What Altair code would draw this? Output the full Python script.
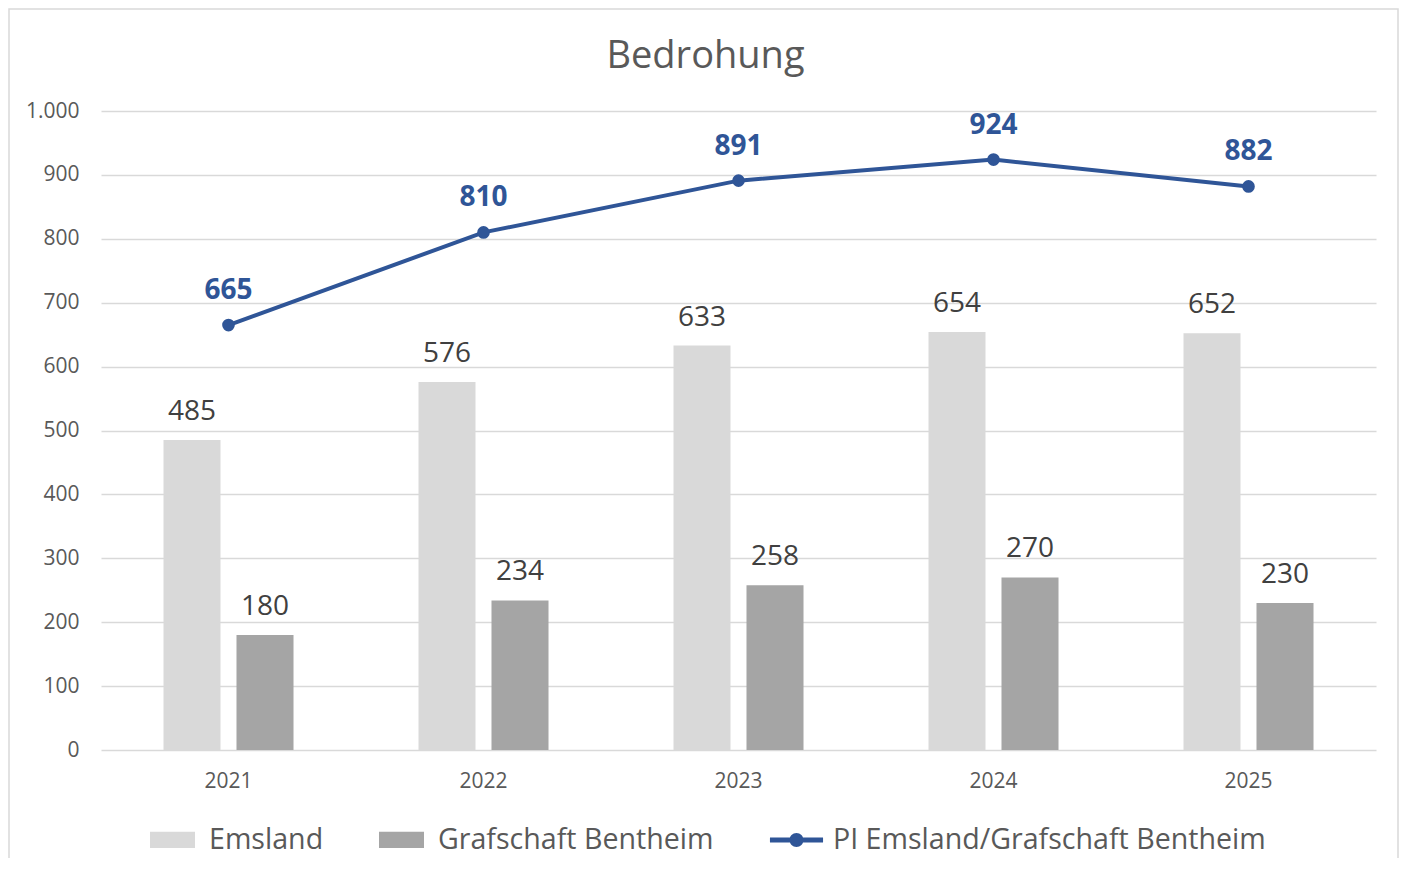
import altair as alt
import pandas as pd

years = ["2021", "2022", "2023", "2024", "2025"]
emsland = [485, 576, 633, 654, 652]
grafschaft = [180, 234, 258, 270, 230]
pi_total = [665, 810, 891, 924, 882]
series_names = ["Emsland", "Grafschaft Bentheim", "PI Emsland/Grafschaft Bentheim"]
series_colors = ["#D9D9D9", "#A5A5A5", "#2F5597"]
legend_shapes = [
    "M-1,-0.36H1V0.36H-1Z",
    "M-1,-0.36H1V0.36H-1Z",
    "M-1.18,-0.11H1.18V0.11H-1.18Z M-0.31,0A0.31,0.31,0,1,1,0.31,0A0.31,0.31,0,1,1,-0.31,0Z",
]

rows = []
for i, yr in enumerate(years):
    rows.append({"year": yr, "series": series_names[0], "value": emsland[i]})
    rows.append({"year": yr, "series": series_names[1], "value": grafschaft[i]})
    rows.append({"year": yr, "series": series_names[2], "value": pi_total[i]})
df = pd.DataFrame(rows)

FONT = "Open Sans"

x = alt.X(
    "year:N",
    title=None,
    scale=alt.Scale(paddingInner=0, paddingOuter=0),
    axis=alt.Axis(labelFontSize=21, labelFont=FONT, labelColor="#595959", labelPadding=20,
                  ticks=False, domain=False, labelAngle=0, grid=False),
)
y = alt.Y(
    "value:Q",
    title=None,
    scale=alt.Scale(domain=[0, 1000]),
    axis=alt.Axis(values=list(range(0, 1001, 100)), labelFontSize=21, labelFont=FONT,
                  labelColor="#595959", labelPadding=22, ticks=False, domain=False,
                  grid=True, gridColor="#D9D9D9", gridWidth=1.3,
                  labelExpr="replace(format(datum.value, ',d'), ',', '.')"),
)
color_scale = alt.Scale(domain=series_names, range=series_colors)
xoff = alt.XOffset("series:N", scale=alt.Scale(domain=series_names[:2], paddingInner=0.219, paddingOuter=0.856))

base = alt.Chart(df)
bar_base = base.transform_filter(alt.FieldOneOfPredicate(field="series", oneOf=series_names[:2]))
bars = bar_base.mark_bar().encode(
    x=x, y=y, xOffset=xoff,
    fill=alt.Fill("series:N", scale=alt.Scale(domain=series_names[:2], range=series_colors[:2]), legend=None),
)
bar_text = bar_base.mark_text(font=FONT, fontSize=28, color="#404040", baseline="alphabetic", dy=-20).encode(
    x=x, y=y, xOffset=xoff, text=alt.Text("value:Q")
)

pi_base = base.transform_filter(alt.datum.series == series_names[2])
line = pi_base.mark_line(color="#2F5597", strokeWidth=4).encode(x=x, y=y)
pts = pi_base.mark_circle(color="#2F5597", size=160, opacity=1).encode(x=x, y=y)
pi_text = pi_base.mark_text(font=FONT, fontSize=28, fontWeight="bold", color="#2F5597",
                            baseline="alphabetic", dy=-26).encode(x=x, y=y, text=alt.Text("value:Q"))

leg = alt.Legend(title=None, orient="none", legendX=49, legendY=706, direction="horizontal",
                 columns=3, labelFontSize=28.6, labelFont=FONT, labelColor="#595959", labelLimit=800,
                 symbolSize=2025, symbolOpacity=1, symbolStrokeWidth=0, labelOffset=14,
                 columnPadding=55, padding=0)
legend_layer = base.mark_point(filled=True, opacity=0, size=2025).encode(
    x=x, y=y,
    color=alt.Color("series:N", scale=color_scale, legend=leg),
    shape=alt.Shape("series:N", scale=alt.Scale(domain=series_names, range=legend_shapes), legend=leg),
)

frame = alt.Chart(alt.Data(values=[{}])).mark_rect(fillOpacity=0, stroke="#D9D9D9", strokeWidth=1.5).encode(
    x=alt.value(-92), x2=alt.value(1297), y=alt.value(-102), y2=alt.value(800)
)

chart = alt.layer(frame, bars, bar_text, line, pts, pi_text, legend_layer).properties(
    width=1275,
    height=639,
    padding={"left": 93, "top": 103, "right": 24, "bottom": 108},
    autosize=alt.AutoSizeParams(type="none"),
    title=alt.TitleParams("Bedrohung", fontSize=38, font=FONT, fontWeight="normal", color="#595959",
                          offset=-68, dx=-33, anchor="middle"),
).configure_view(stroke=None)

chart.save("out.html", embed_options={"renderer": "svg", "actions": False})
